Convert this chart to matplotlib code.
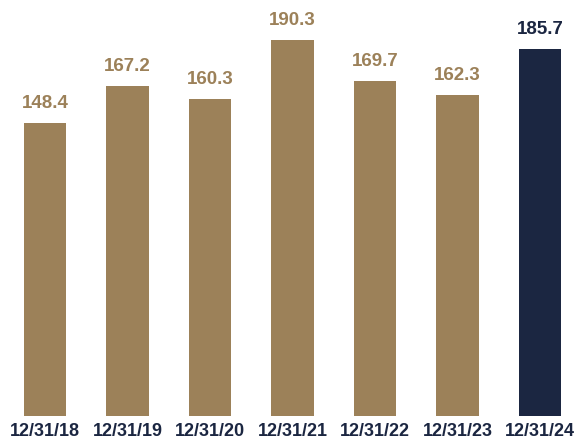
import matplotlib
matplotlib.use("Agg")
import matplotlib.pyplot as plt

categories = ["12/31/18", "12/31/19", "12/31/20", "12/31/21", "12/31/22", "12/31/23", "12/31/24"]
values = [148.4, 167.2, 160.3, 190.3, 169.7, 162.3, 185.7]

TAN = "#9C8159"
NAVY = "#1B2641"
colors = [TAN] * 6 + [NAVY]

plt.rcParams['font.family'] = ['Liberation Sans', 'DejaVu Sans']

fig = plt.figure(figsize=(5.75, 4.45), dpi=100)
ax = fig.add_axes([0, 29/445, 1, 416/445])
x = list(range(len(categories)))
bars = ax.bar(x, values, width=0.51, color=colors)
ax.set_xlim(-0.545, 6.424)
ax.set_ylim(0, 190.3 * 416 / 376)

for xi, v, c in zip(x, values, colors):
    ax.annotate(f"{v:.1f}", (xi, v), xytext=(0, 8), textcoords="offset points",
                ha="center", va="bottom", fontsize=13.5, fontweight="bold", color=c)

ax.set_xticks(x)
ax.set_xticklabels(categories, fontsize=13, fontweight="bold", color=NAVY)
ax.tick_params(axis="x", length=0, pad=5)
ax.set_yticks([])
for s in ax.spines.values():
    s.set_visible(False)

fig.savefig("out.png", dpi=100)
